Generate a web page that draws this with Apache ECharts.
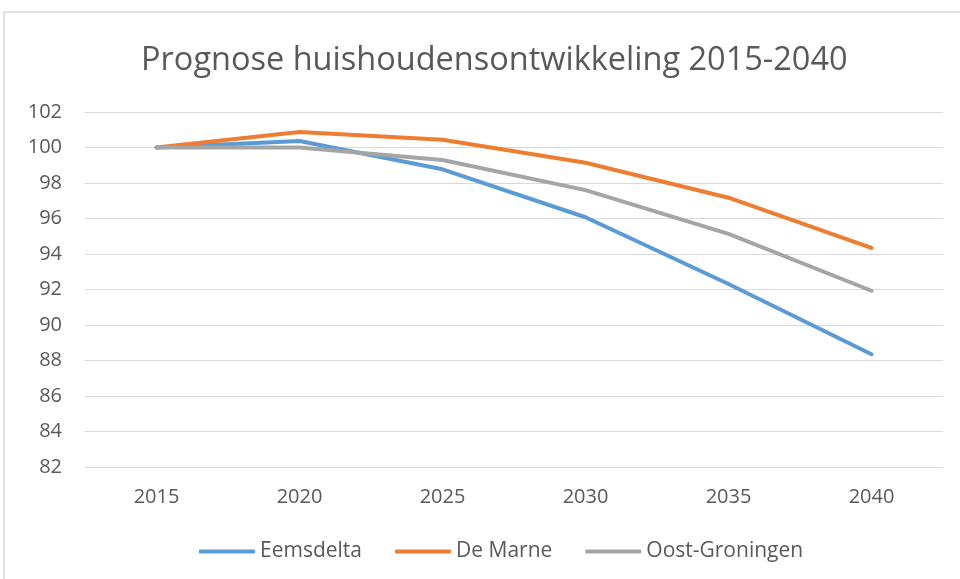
<!DOCTYPE html>
<html>
<head>
<meta charset="utf-8">
<script src="https://cdn.jsdelivr.net/npm/echarts@6/dist/echarts.min.js"></script>
<style>
  html, body { margin: 0; padding: 0; background: #fff; }
  #main { width: 960px; height: 579px; }
</style>
</head>
<body>
<div id="main"></div>
<script>
// jaren
const years = ['2015', '2020', '2025', '2030', '2035', '2040'];

// index 2015 = 100
const eemsdelta = [100, 100.37, 98.77, 96.07, 92.31, 88.35];
const deMarne = [100, 100.87, 100.44, 99.14, 97.17, 94.34];
const oostGroningen = [100, 100.0, 99.3, 97.6, 95.13, 91.93];

const chart = echarts.init(document.getElementById('main'));

const lineSerie = (name, data, color) => ({
  name: name,
  type: 'line',
  data: data,
  symbol: 'none',
  lineStyle: { width: 4, color: color, cap: 'round', join: 'round' },
  itemStyle: { color: color }
});

chart.setOption({
  backgroundColor: '#fff',
  textStyle: { fontFamily: 'Open Sans, sans-serif' },
  graphic: [{
    type: 'rect',
    shape: { x: 4, y: 12, width: 970, height: 600 },
    style: { fill: 'none', stroke: '#d9d9d9', lineWidth: 1.5 },
    silent: true
  }],
  title: {
    text: 'Prognose huishoudensontwikkeling 2015-2040',
    left: 136,
    top: 39,
    textStyle: { color: '#595959', fontSize: 32.5, fontWeight: 'normal' }
  },
  legend: {
    bottom: 12,
    left: 194,
    icon: 'roundRect',
    itemWidth: 56,
    itemHeight: 4,
    itemGap: 33,
    textStyle: { color: '#595959', fontSize: 21 }
  },
  grid: { left: 85, right: 17, top: 112, bottom: 112 },
  xAxis: {
    type: 'category',
    data: years,
    boundaryGap: true,
    axisLine: { show: false },
    axisTick: { show: false },
    axisLabel: { color: '#595959', fontSize: 20, margin: 20 }
  },
  yAxis: {
    type: 'value',
    min: 82,
    max: 102,
    interval: 2,
    axisLine: { show: false },
    axisTick: { show: false },
    axisLabel: { color: '#595959', fontSize: 20, margin: 23 },
    splitLine: { lineStyle: { color: '#d9d9d9', width: 1 } }
  },
  series: [
    lineSerie('Eemsdelta', eemsdelta, '#5B9BD5'),
    lineSerie('De Marne', deMarne, '#ED7D31'),
    lineSerie('Oost-Groningen', oostGroningen, '#A5A5A5')
  ]
});
</script>
</body>
</html>
